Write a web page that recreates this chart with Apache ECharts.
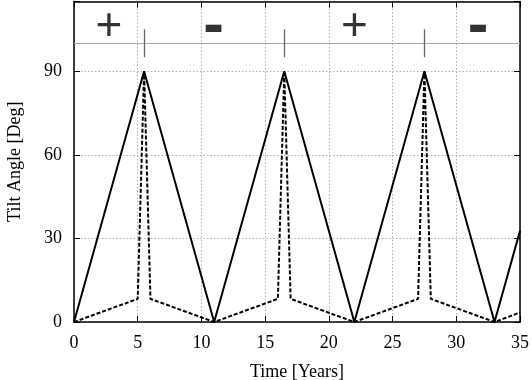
<!DOCTYPE html>
<html><head><meta charset="utf-8">
<script src="https://cdn.jsdelivr.net/npm/echarts@6/dist/echarts.min.js"></script>
<style>html,body{margin:0;padding:0;background:#fff}#c{width:532px;height:380px}</style>
</head><body><div id="c"></div>
<script>
// Data
const solidX = [0, 5.5, 11, 16.5, 22, 27.5, 33, 35];
const solidY = [0, 90, 0, 90, 0, 90, 0, 32.7];
const dashedX = [0, 5, 5.5, 6, 11, 16, 16.5, 17, 22, 27, 27.5, 28, 33, 35];
const dashedY = [0, 8.3, 90, 8.3, 0, 8.3, 90, 8.3, 0, 8.3, 90, 8.3, 0, 3.4];
const markX = [5.5, 16.5, 27.5];
const markRange = [95, 105];
const refLineY = 100;
const signText = ['+', '-', '+', '-'];
const signX = [2.75, 10.95, 22, 31.7];
const signY = [105.6, 106.0, 105.6, 106.0];
const xTicks = [0, 5, 10, 15, 20, 25, 30, 35];
const yTicks = [0, 30, 60, 90];

const FONT = 'Liberation Serif';
const chart = echarts.init(document.getElementById('c'), null, {renderer: 'canvas'});
const grid = {left: 74, right: 12, top: 1.5, bottom: 58, outerBoundsMode: 'none', containLabel: false};
const axisLineStyle = {color: '#000', width: 1.5};
const gridStyle = {color: '#b0b0b0', type: [1.5, 2], width: 1};
const tickStyle = {show: true, inside: true, length: 6, lineStyle: {color: '#000', width: 1}};

const option = {
  animation: false,
  backgroundColor: '#fff',
  grid: grid,
  xAxis: [
    {type: 'value', min: 0, max: 35, interval: 5, position: 'bottom',
     name: 'Time [Years]', nameLocation: 'middle', nameGap: 41,
     nameTextStyle: {fontFamily: FONT, fontSize: 18, color: '#000'},
     axisLine: {show: true, onZero: false, lineStyle: axisLineStyle},
     axisTick: tickStyle,
     axisLabel: {fontFamily: FONT, fontSize: 18, color: '#000', margin: 12,
       formatter: v => xTicks.includes(v) ? String(v) : ''},
     splitLine: {show: true, lineStyle: gridStyle}},
    {type: 'value', min: 0, max: 35, interval: 5, position: 'top',
     axisLine: {show: true, onZero: false, lineStyle: axisLineStyle},
     axisTick: tickStyle,
     axisLabel: {show: false}, splitLine: {show: false}}
  ],
  yAxis: [
    {type: 'value', min: 0, max: 115, interval: 30, position: 'left',
     name: 'Tilt Angle [Deg]', nameLocation: 'middle', nameGap: 50,
     nameTextStyle: {fontFamily: FONT, fontSize: 18, color: '#000'},
     axisLine: {show: true, onZero: false, lineStyle: axisLineStyle},
     axisTick: tickStyle,
     axisLabel: {fontFamily: FONT, fontSize: 18, color: '#000', margin: 12,
       formatter: v => yTicks.includes(v) ? String(v) : ''},
     splitLine: {show: true, lineStyle: gridStyle}},
    {type: 'value', min: 0, max: 115, interval: 30, position: 'right',
     axisLine: {show: true, onZero: false, lineStyle: axisLineStyle},
     axisTick: tickStyle,
     axisLabel: {show: false}, splitLine: {show: false}}
  ],
  series: [
    {type: 'line', name: 'solid', xAxisIndex: 0, yAxisIndex: 0,
     data: solidX.map((x, i) => [x, solidY[i]]),
     showSymbol: false, symbol: 'none',
     lineStyle: {color: '#000', width: 2},
     markLine: {silent: true, symbol: 'none', label: {show: false},
       data: [{yAxis: refLineY, lineStyle: {color: '#a8a8a8', width: 1, type: 'solid'}}]
         .concat(markX.map(x => [{coord: [x, markRange[0]], lineStyle: {color: '#666', width: 1.3, type: 'solid'}},
                                 {coord: [x, markRange[1]]}]))}},
    {type: 'line', name: 'dashed', xAxisIndex: 0, yAxisIndex: 0,
     data: dashedX.map((x, i) => [x, dashedY[i]]),
     showSymbol: false, symbol: 'none',
     lineStyle: {color: '#000', width: 2, type: [4, 2]}},
    {type: 'scatter', name: 'signs', xAxisIndex: 0, yAxisIndex: 0,
     symbolSize: 0,
     data: signX.map((x, i) => ({value: [x, signY[i]], name: signText[i],
       label: signText[i] === '-' ? {fontSize: 62, fontWeight: 'bold'} : {fontSize: 46, fontWeight: 'normal'}})),
     label: {show: true, position: 'inside', formatter: p => p.name,
       fontFamily: 'Liberation Sans', color: '#000'}}
  ]
};
chart.setOption(option);
</script></body></html>
